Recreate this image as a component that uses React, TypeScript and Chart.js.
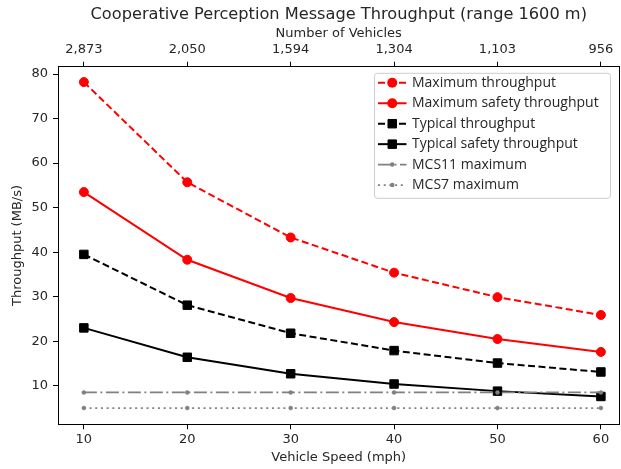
import React, { useEffect, useRef } from 'react';
import { Chart, registerables } from 'chart.js';

Chart.register(...registerables);

// ---- data ----
const speeds = [10, 20, 30, 40, 50, 60];
const vehicleLabels = ['2,873', '2,050', '1,594', '1,304', '1,103', '956'];
const maxThroughput = [78.2, 55.7, 43.3, 35.4, 29.9, 25.9];
const maxSafetyThroughput = [53.5, 38.3, 29.7, 24.3, 20.5, 17.6];
const typicalThroughput = [39.5, 28.1, 21.8, 17.9, 15.1, 13.1];
const typicalSafetyThroughput = [23.0, 16.4, 12.7, 10.4, 8.8, 7.6];
const mcs11Maximum = [8.5, 8.5, 8.5, 8.5, 8.5, 8.5];
const mcs7Maximum = [5.0, 5.0, 5.0, 5.0, 5.0, 5.0];
const yTicks = [10, 20, 30, 40, 50, 60, 70, 80];
const chartTitle = 'Cooperative Perception Message Throughput (range 1600 m)';

const TEXT = '#262626';
const TICK_FONT = { family: 'DejaVu Sans', size: 13 };
const LABEL_FONT = { family: 'DejaVu Sans', size: 13 };

const pts = (vals: number[]) => speeds.map((s, i) => ({ x: s, y: vals[i] }));

const frameAndLegend = {
  id: 'frameAndLegend',
  afterDatasetsDraw(chart: any) {
    const { ctx, chartArea } = chart;
    ctx.save();
    // title centred over the plot area
    ctx.fillStyle = TEXT;
    ctx.font = '16.2px "DejaVu Sans"';
    ctx.textAlign = 'center';
    ctx.textBaseline = 'middle';
    ctx.fillText(chartTitle, (chartArea.left + chartArea.right) / 2, 15);

    // right spine
    ctx.strokeStyle = '#000';
    ctx.lineWidth = 1;
    ctx.beginPath();
    const rx = Math.round(chartArea.right) - 0.5;
    ctx.moveTo(rx, chartArea.top);
    ctx.lineTo(rx, chartArea.bottom);
    ctx.stroke();

    // legend
    const boxW = 236;
    const boxH = 125;
    const bx = chartArea.right - 9 - boxW;
    const by = chartArea.top + 6.6;
    const r = 3;
    ctx.beginPath();
    ctx.moveTo(bx + r, by);
    ctx.lineTo(bx + boxW - r, by);
    ctx.quadraticCurveTo(bx + boxW, by, bx + boxW, by + r);
    ctx.lineTo(bx + boxW, by + boxH - r);
    ctx.quadraticCurveTo(bx + boxW, by + boxH, bx + boxW - r, by + boxH);
    ctx.lineTo(bx + r, by + boxH);
    ctx.quadraticCurveTo(bx, by + boxH, bx, by + boxH - r);
    ctx.lineTo(bx, by + r);
    ctx.quadraticCurveTo(bx, by, bx + r, by);
    ctx.closePath();
    ctx.fillStyle = 'rgba(255,255,255,0.8)';
    ctx.fill();
    ctx.strokeStyle = '#cccccc';
    ctx.lineWidth = 1;
    ctx.stroke();

    const rowH = 20.45;
    const hx0 = bx + 3.5;
    const hx1 = bx + 32;
    const hxm = (hx0 + hx1) / 2;
    const tx = bx + 37.5;
    chart.data.datasets.forEach((ds: any, i: number) => {
      const y = by + 9.5 + i * rowH;
      ctx.save();
      ctx.strokeStyle = ds.borderColor;
      ctx.lineWidth = ds.borderWidth;
      ctx.setLineDash(ds.borderDash || []);
      ctx.beginPath();
      ctx.moveTo(hx0, y);
      ctx.lineTo(hx1, y);
      ctx.stroke();
      ctx.setLineDash([]);
      ctx.fillStyle = ds.pointBackgroundColor;
      ctx.beginPath();
      if (ds.pointStyle === 'rect') {
        const s = Math.SQRT1_2 * ds.pointRadius;
        ctx.rect(hxm - s, y - s, 2 * s, 2 * s);
      } else {
        ctx.arc(hxm, y, ds.pointRadius + ds.pointBorderWidth / 2, 0, Math.PI * 2);
      }
      ctx.fill();
      if (ds.pointStyle === 'rect') {
        ctx.lineWidth = ds.pointBorderWidth;
        ctx.stroke();
      }
      ctx.restore();
      ctx.fillStyle = TEXT;
      ctx.font = '14px "Open Sans"';
      ctx.textBaseline = 'middle';
      ctx.textAlign = 'left';
      ctx.fillText(ds.label, tx, y);
    });
    ctx.restore();
  },
};

const noSidePadding = (scale: any) => {
  scale.paddingLeft = 0;
  scale.paddingRight = 0;
};

export default function App() {
  const ref = useRef<HTMLCanvasElement | null>(null);

  useEffect(() => {
    document.body.style.margin = '0';
    const canvas = ref.current;
    if (!canvas) return;
    const chart = new Chart(canvas, {
      type: 'line',
      data: {
        datasets: [
          {
            label: 'Maximum throughput',
            data: pts(maxThroughput),
            borderColor: '#ff0000',
            backgroundColor: '#ff0000',
            pointBackgroundColor: '#ff0000',
            borderWidth: 2,
            borderDash: [7, 3.5],
            pointStyle: 'circle',
            pointRadius: 4.5,
            pointBorderWidth: 1,
            order: 6,
          },
          {
            label: 'Maximum safety throughput',
            data: pts(maxSafetyThroughput),
            borderColor: '#ff0000',
            backgroundColor: '#ff0000',
            pointBackgroundColor: '#ff0000',
            borderWidth: 2,
            borderDash: [],
            pointStyle: 'circle',
            pointRadius: 4.5,
            pointBorderWidth: 1,
            order: 5,
          },
          {
            label: 'Typical throughput',
            data: pts(typicalThroughput),
            borderColor: '#000000',
            backgroundColor: '#000000',
            pointBackgroundColor: '#000000',
            borderWidth: 2,
            borderDash: [7, 3.5],
            pointStyle: 'rect',
            pointRadius: 6,
            pointBorderWidth: 1,
            order: 4,
          },
          {
            label: 'Typical safety throughput',
            data: pts(typicalSafetyThroughput),
            borderColor: '#000000',
            backgroundColor: '#000000',
            pointBackgroundColor: '#000000',
            borderWidth: 2,
            borderDash: [],
            pointStyle: 'rect',
            pointRadius: 6,
            pointBorderWidth: 1,
            order: 3,
          },
          {
            label: 'MCS11 maximum',
            data: pts(mcs11Maximum),
            borderColor: '#808080',
            backgroundColor: '#808080',
            pointBackgroundColor: '#808080',
            borderWidth: 1.8,
            borderDash: [13, 3.5, 2, 3.5],
            pointStyle: 'circle',
            pointRadius: 2,
            pointBorderWidth: 0.5,
            order: 2,
          },
          {
            label: 'MCS7 maximum',
            data: pts(mcs7Maximum),
            borderColor: '#808080',
            backgroundColor: '#808080',
            pointBackgroundColor: '#808080',
            borderWidth: 1.8,
            borderDash: [2, 3.7],
            pointStyle: 'circle',
            pointRadius: 2,
            pointBorderWidth: 0.5,
            order: 1,
          },
        ],
      },
      options: {
        responsive: false,
        animation: false,
        events: [],
        layout: { autoPadding: false, padding: { left: 0, right: 1.5, top: 25.4, bottom: 0 } },
        plugins: {
          legend: { display: false },
          tooltip: { enabled: false },
          title: { display: false },
        },
        scales: {
          x: {
            type: 'linear',
            position: 'bottom',
            min: 7.5,
            max: 61.8,
            afterBuildTicks: (scale: any) => {
              scale.ticks = speeds.map((v) => ({ value: v }));
            },
            afterFit: (scale: any) => {
              scale.height = 44.7;
              noSidePadding(scale);
            },
            grid: { drawOnChartArea: false, drawTicks: true, tickLength: 5, color: '#000' },
            border: { display: true, color: '#000', width: 1 },
            ticks: { color: TEXT, font: TICK_FONT, padding: 3, maxRotation: 0 },
            title: {
              display: true,
              text: 'Vehicle Speed (mph)',
              color: TEXT,
              font: LABEL_FONT,
              padding: { top: 0, bottom: 3.2 },
            },
          },
          x2: {
            type: 'linear',
            position: 'top',
            min: 7.5,
            max: 61.8,
            afterBuildTicks: (scale: any) => {
              scale.ticks = speeds.map((v) => ({ value: v }));
            },
            afterFit: (scale: any) => {
              scale.height = 41.3;
              noSidePadding(scale);
            },
            grid: { drawOnChartArea: false, drawTicks: true, tickLength: 5, color: '#000' },
            border: { display: true, color: '#000', width: 1 },
            ticks: {
              color: TEXT,
              font: TICK_FONT,
              padding: 4,
              maxRotation: 0,
              callback: (v: any) => {
                const i = speeds.indexOf(Number(v));
                return i >= 0 ? vehicleLabels[i] : '';
              },
            },
            title: {
              display: true,
              text: 'Number of Vehicles',
              color: TEXT,
              font: LABEL_FONT,
              padding: { top: 0.8, bottom: 0 },
            },
          },
          y: {
            type: 'linear',
            position: 'left',
            min: 1.35,
            max: 81.65,
            afterBuildTicks: (scale: any) => {
              scale.ticks = yTicks.map((v) => ({ value: v }));
            },
            afterFit: (scale: any) => {
              scale.width = 58;
            },
            grid: { drawOnChartArea: false, drawTicks: true, tickLength: 5, color: '#000' },
            border: { display: true, color: '#000', width: 1 },
            ticks: { color: TEXT, font: TICK_FONT, padding: 5 },
            title: {
              display: true,
              text: 'Throughput (MB/s)',
              color: TEXT,
              font: LABEL_FONT,
              padding: { top: 9.7, bottom: 0 },
            },
          },
        },
      } as any,
      plugins: [frameAndLegend],
    });
    return () => chart.destroy();
  }, []);

  return (
    <canvas
      ref={ref}
      width={621}
      height={469}
      style={{ display: 'block', width: '621px', height: '469px' }}
    />
  );
}
